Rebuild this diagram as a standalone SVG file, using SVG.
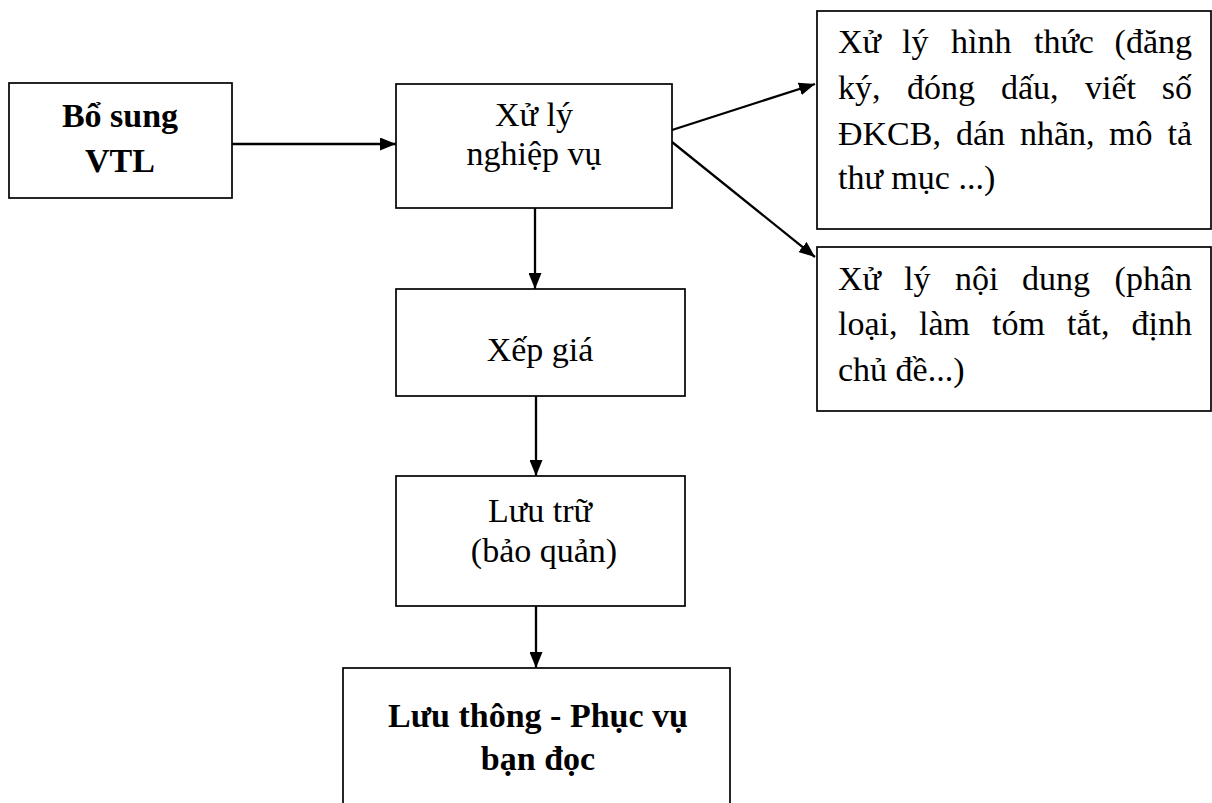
<svg xmlns="http://www.w3.org/2000/svg" width="1212" height="803" viewBox="0 0 1212 803">
<defs>
<marker id="arr" viewBox="0 0 16 13" refX="16" refY="6.5" markerWidth="16" markerHeight="13" markerUnits="userSpaceOnUse" orient="auto">
<path d="M0,0 L16,6.5 L0,13 Z" fill="#000"/>
</marker>
</defs>
<style>
.box{fill:#fff;stroke:#000;stroke-width:1.7}
text{font-family:'Liberation Serif','Times New Roman',Tinos,'DejaVu Serif',serif;font-size:34px;fill:#000}
.b{font-weight:bold}
.c{text-anchor:middle}
.ln{stroke:#000;stroke-width:2.3;fill:none;marker-end:url(#arr)}
</style>
<rect width="1212" height="803" fill="#fff"/>
<g id="connectors">
<line class="ln" x1="232" y1="144" x2="396" y2="144"/>
<line class="ln" x1="672" y1="130" x2="815" y2="84"/>
<line class="ln" x1="672" y1="142" x2="815" y2="257"/>
<line class="ln" x1="535" y1="208" x2="535" y2="289"/>
<line class="ln" x1="536" y1="396" x2="536" y2="476"/>
<line class="ln" x1="536" y1="606" x2="536" y2="668"/>
</g>
<g id="bosung">
<rect class="box" x="9" y="83" width="223" height="115"/>
<text class="b c" x="120" y="127">Bổ sung</text>
<text class="b c" x="120" y="172">VTL</text>
</g>
<g id="xuly">
<rect class="box" x="396" y="84" width="276" height="124"/>
<text class="c" x="534" y="126">Xử lý</text>
<text class="c" x="534" y="165">nghiệp vụ</text>
</g>
<g id="hinhthuc">
<rect class="box" x="817" y="11" width="394" height="218"/>
<text y="53"><tspan x="838">Xử</tspan><tspan x="902">lý</tspan><tspan x="951">hình</tspan><tspan x="1034">thức</tspan><tspan x="1192" text-anchor="end">(đăng</tspan></text>
<text y="99"><tspan x="838">ký,</tspan><tspan x="907">đóng</tspan><tspan x="1001">dấu,</tspan><tspan x="1085">viết</tspan><tspan x="1192" text-anchor="end">số</tspan></text>
<text y="145"><tspan x="838">ĐKCB,</tspan><tspan x="956">dán</tspan><tspan x="1020">nhãn,</tspan><tspan x="1109">mô</tspan><tspan x="1192" text-anchor="end">tả</tspan></text>
<text x="838" y="189">thư mục ...)</text>
</g>
<g id="noidung">
<rect class="box" x="817" y="247" width="394" height="164"/>
<text y="290"><tspan x="838">Xử</tspan><tspan x="904">lý</tspan><tspan x="955">nội</tspan><tspan x="1022">dung</tspan><tspan x="1192" text-anchor="end">(phân</tspan></text>
<text y="335"><tspan x="838">loại,</tspan><tspan x="919">làm</tspan><tspan x="992">tóm</tspan><tspan x="1067">tắt,</tspan><tspan x="1192" text-anchor="end">định</tspan></text>
<text x="838" y="381">chủ đề...)</text>
</g>
<g id="xepgia">
<rect class="box" x="396" y="289" width="289" height="107"/>
<text class="c" x="540" y="361">Xếp giá</text>
</g>
<g id="luutru">
<rect class="box" x="396" y="476" width="289" height="130"/>
<text class="c" x="540" y="522">Lưu trữ</text>
<text class="c" x="544" y="562">(bảo quản)</text>
</g>
<g id="luuthong">
<rect class="box" x="343" y="668" width="387" height="160"/>
<text class="b c" x="538" y="727">Lưu thông - Phục vụ</text>
<text class="b c" x="538" y="770">bạn đọc</text>
</g>
</svg>
